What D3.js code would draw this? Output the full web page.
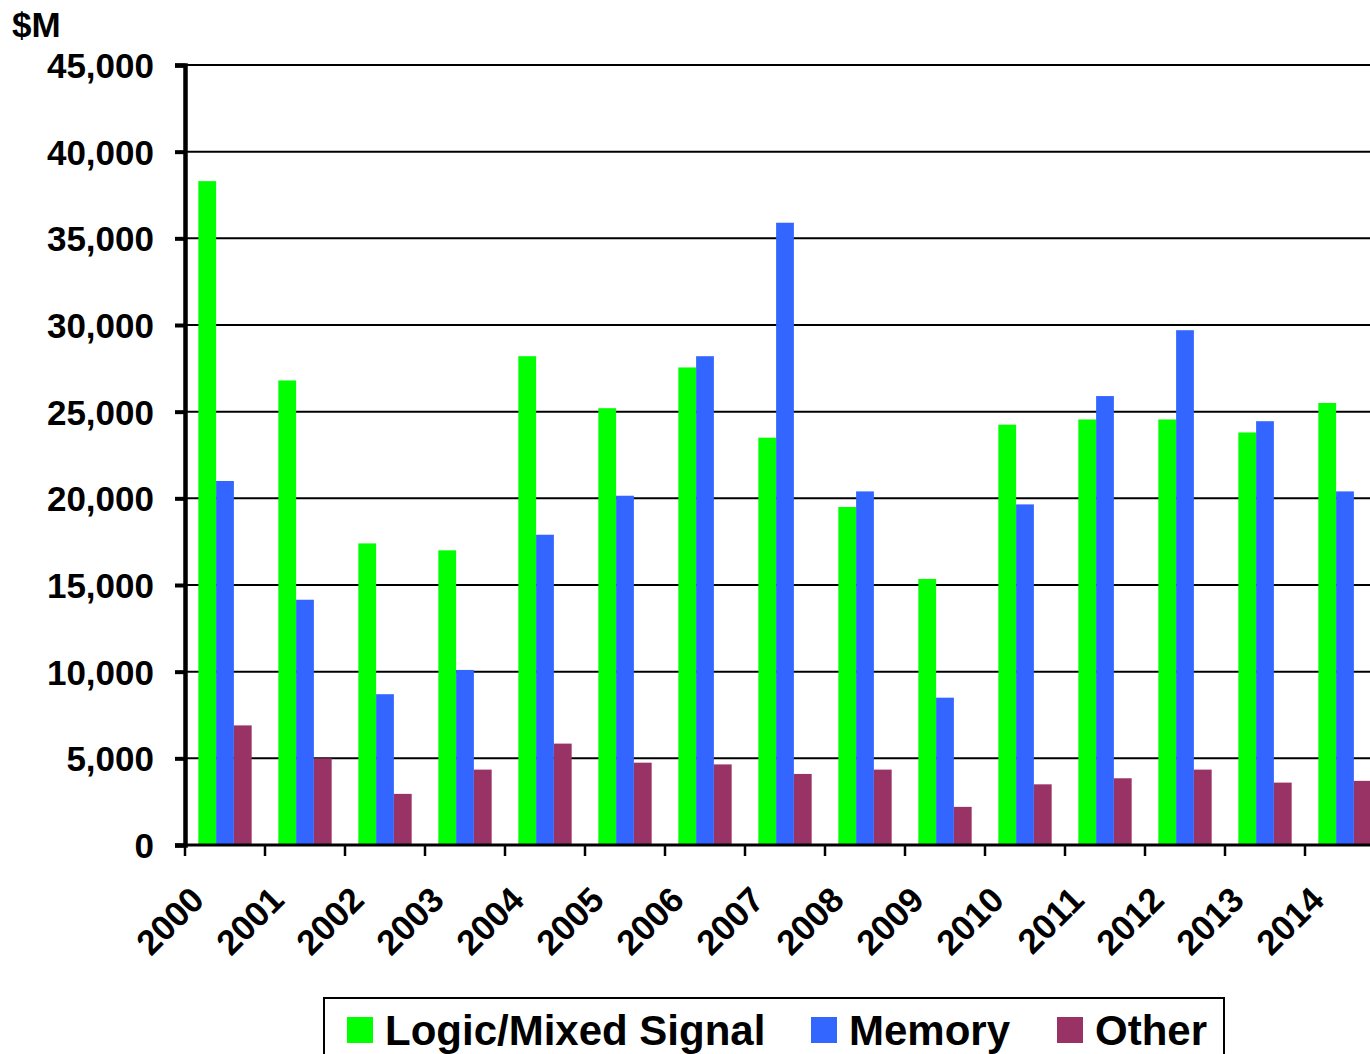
<!DOCTYPE html>
<html>
<head>
<meta charset="utf-8">
<script src="https://cdn.jsdelivr.net/npm/d3@7/dist/d3.min.js"></script>
<style>
  html, body { margin: 0; padding: 0; background: #fff; }
  svg { display: block; font-family: "Liberation Sans", Arial, sans-serif; font-weight: bold; }
</style>
</head>
<body>
<svg id="chart" width="1370" height="1054"></svg>
<script>
// Semiconductor revenue by product type, $M
const years = ["2000","2001","2002","2003","2004","2005","2006","2007","2008","2009","2010","2011","2012","2013","2014"];
const logicMixed = [38300, 26800, 17400, 17000, 28200, 25200, 27550, 23500, 19500, 15350, 24250, 24550, 24550, 23800, 25500];
const memory     = [21000, 14150, 8700, 10100, 17900, 20150, 28200, 35900, 20400, 8500, 19650, 25900, 29700, 24450, 20400];
const other      = [6900, 5000, 2950, 4350, 5850, 4750, 4650, 4100, 4350, 2200, 3500, 3850, 4350, 3600, 3700];
const seriesNames = ["Logic/Mixed Signal", "Memory", "Other"];
const seriesColors = ["#00ff00", "#3366ff", "#993366"];
const yTicks = [0, 5000, 10000, 15000, 20000, 25000, 30000, 35000, 40000, 45000];

const seriesValues = [logicMixed, memory, other];
const svg = d3.select("#chart");

const plotLeft = 185, plotTop = 65, plotBottom = 845, step = 80;

const x0 = d3.scaleBand().domain(years).range([plotLeft, plotLeft + step * years.length]).padding(0);
const x1 = d3.scaleBand().domain(seriesNames).range([0, x0.bandwidth()]).paddingInner(0).paddingOuter(0.75);
const y = d3.scaleLinear().domain([0, 45000]).range([plotBottom, plotTop]);

// horizontal gridlines
svg.append("g").selectAll("line")
  .data(yTicks.filter(d => d > 0))
  .join("line")
  .attr("x1", plotLeft).attr("x2", 1370)
  .attr("y1", d => y(d)).attr("y2", d => y(d))
  .attr("stroke", "#000").attr("stroke-width", 2);

// bars
const groups = svg.append("g").selectAll("g")
  .data(years)
  .join("g")
  .attr("transform", d => `translate(${x0(d)},0)`);

groups.selectAll("rect")
  .data((yr, i) => seriesNames.map((s, k) => ({ s, v: seriesValues[k][i], c: seriesColors[k] })))
  .join("rect")
  .attr("x", d => x1(d.s))
  .attr("width", x1.bandwidth())
  .attr("y", d => y(d.v))
  .attr("height", d => y(0) - y(d.v))
  .attr("fill", d => d.c);

// x axis: baseline, boundary ticks and rotated year labels
svg.append("line")
  .attr("x1", plotLeft).attr("x2", 1370)
  .attr("y1", y(0)).attr("y2", y(0))
  .attr("stroke", "#000").attr("stroke-width", 3);

svg.append("g").selectAll("line")
  .data(years)
  .join("line")
  .attr("x1", d => x0(d)).attr("x2", d => x0(d))
  .attr("y1", y(0)).attr("y2", y(0) + 11)
  .attr("stroke", "#000").attr("stroke-width", 2.5);

const xAxis = svg.append("g")
  .attr("transform", `translate(0,${y(0)})`)
  .call(d3.axisBottom(x0).tickSize(0).tickPadding(0));
xAxis.select(".domain").remove();
xAxis.selectAll("text")
  .attr("font-size", 35)
  .attr("font-weight", "bold")
  .attr("font-family", "'Liberation Sans', Arial, sans-serif")
  .attr("fill", "#000")
  .attr("text-anchor", "end")
  .attr("dy", 0)
  .attr("transform", "translate(-19,57) rotate(-45)");

// y axis
const yAxis = svg.append("g")
  .attr("transform", `translate(${plotLeft},0)`)
  .call(d3.axisLeft(y).tickValues(yTicks).tickFormat(d3.format(",")).tickSize(10).tickPadding(21));
yAxis.select(".domain").attr("stroke", "#000").attr("stroke-width", 4.5);
yAxis.selectAll(".tick line").attr("stroke", "#000").attr("stroke-width", 4);
yAxis.selectAll("text")
  .attr("font-size", 35)
  .attr("font-weight", "bold")
  .attr("font-family", "'Liberation Sans', Arial, sans-serif")
  .attr("fill", "#000")
  .attr("dy", "0.36em");

// unit label
svg.append("text")
  .attr("x", 12).attr("y", 37)
  .attr("font-size", 35)
  .attr("fill", "#000")
  .text("$M");

// legend
const legend = svg.append("g");
legend.append("rect")
  .attr("x", 324).attr("y", 998)
  .attr("width", 900).attr("height", 80)
  .attr("fill", "#fff").attr("stroke", "#000").attr("stroke-width", 2);

const legendX = [347, 811, 1057];
const items = legend.selectAll("g.item")
  .data(seriesNames)
  .join("g")
  .attr("class", "item")
  .attr("transform", (d, i) => `translate(${legendX[i]},0)`);
items.append("rect")
  .attr("x", 0).attr("y", 1017)
  .attr("width", 26).attr("height", 26)
  .attr("fill", (d, i) => seriesColors[i]);
items.append("text")
  .attr("x", 38).attr("y", 1045)
  .attr("font-size", 42)
  .attr("fill", "#000")
  .text(d => d);
</script>
</body>
</html>
